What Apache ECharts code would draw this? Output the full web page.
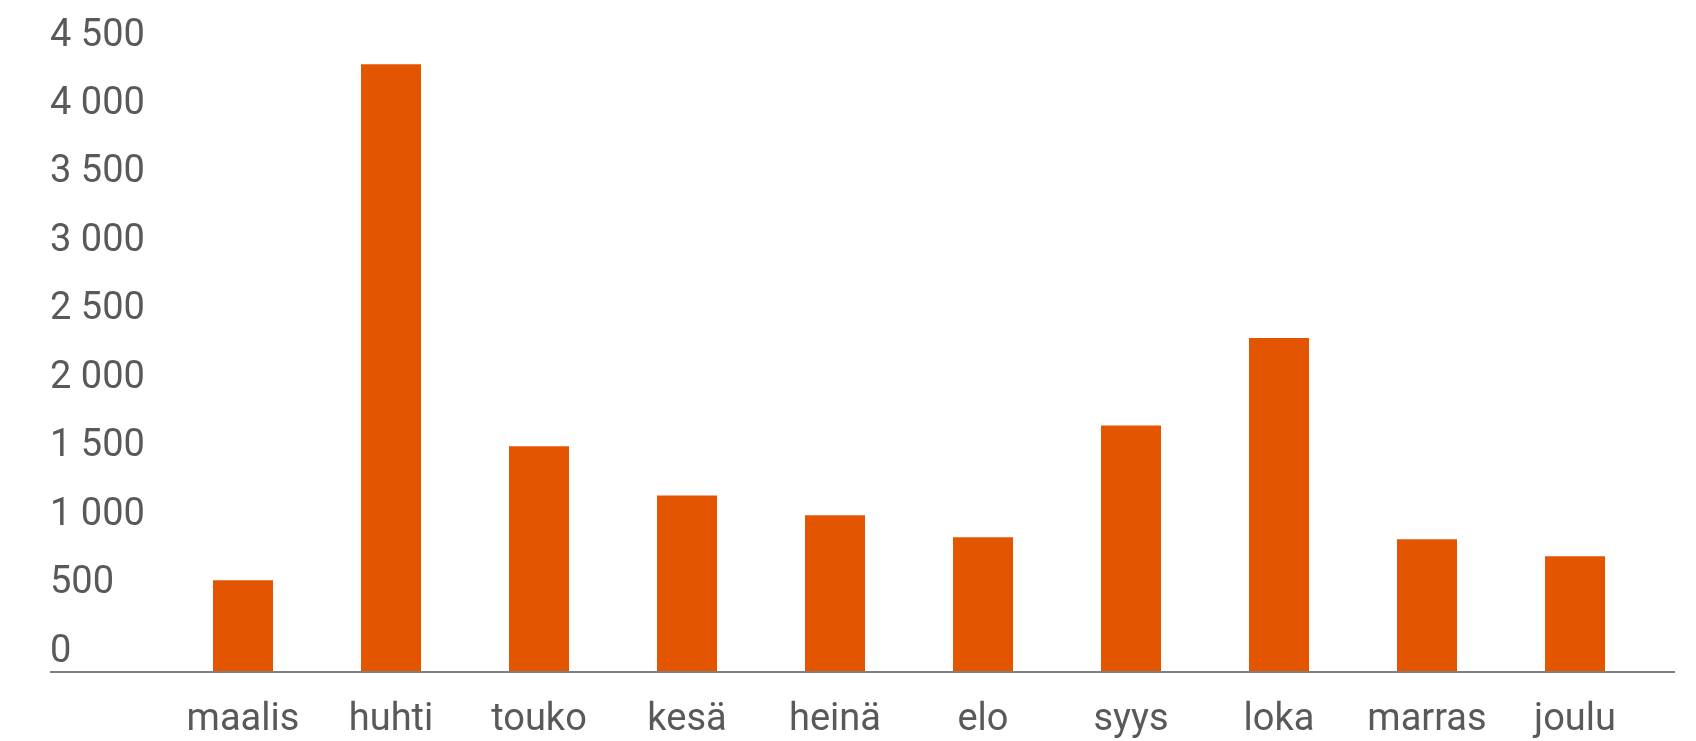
<!DOCTYPE html>
<html>
<head>
<meta charset="utf-8">
<script src="https://cdn.jsdelivr.net/npm/echarts@6/dist/echarts.min.js"></script>
<style>
  html, body { margin: 0; padding: 0; background: #fff; }
  #chart { width: 1696px; height: 741px; }
</style>
</head>
<body>
<div id="chart"></div>
<script>
const months = ["maalis", "huhti", "touko", "kesä", "heinä", "elo", "syys", "loka", "marras", "joulu"];
const counts = [670, 4440, 1650, 1290, 1145, 985, 1800, 2440, 970, 845];
const yMin = 0;
const yMax = 4500;
const yStep = 500;

const textColor = "#595959";
const barColor = "#e35500";
const font = "Roboto";

// "4500" -> "4 500"
function spaced(v) {
  return String(v).replace(/\B(?=(\d{3})+(?!\d))/g, " ");
}

const chart = echarts.init(document.getElementById("chart"));

chart.setOption({
  animation: false,
  grid: { left: 169, right: 47, top: 56, bottom: 69 },
  xAxis: {
    type: "category",
    data: months,
    axisLine: { show: false },
    axisTick: { show: false },
    axisLabel: {
      interval: 0,
      color: textColor,
      fontFamily: font,
      fontSize: 38,
      margin: 29,
    },
  },
  yAxis: {
    type: "value",
    min: yMin,
    max: yMax,
    interval: yStep,
    splitLine: { show: false },
    axisLine: { show: false },
    axisTick: { show: false },
    axisLabel: {
      color: textColor,
      fontFamily: font,
      fontSize: 38,
      align: "left",
      margin: 119,
      verticalAlign: "bottom",
      lineHeight: 40,
      formatter: spaced,
    },
  },
  series: [
    {
      type: "bar",
      data: counts,
      barWidth: 60,
      itemStyle: { color: barColor },
    },
  ],
});

// baseline runs wider than the category band, so draw it separately
const baseY = chart.convertToPixel({ yAxisIndex: 0 }, 0);
chart.setOption({
  graphic: [
    {
      type: "line",
      shape: { x1: 50, y1: baseY, x2: 1675, y2: baseY },
      style: { stroke: "#7f7f7f", lineWidth: 2 },
      z: 10,
    },
  ],
});
</script>
</body>
</html>
